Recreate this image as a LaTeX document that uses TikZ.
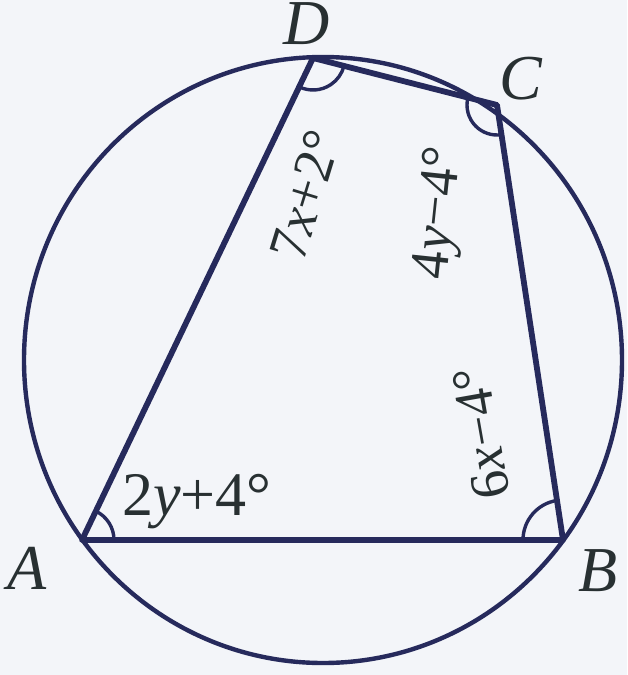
\documentclass[tikz,border=0pt]{standalone}
\usepackage{fontspec}
\setmainfont{Liberation Serif}
\definecolor{ink}{RGB}{38,42,92}
\definecolor{txt}{RGB}{40,48,50}
\definecolor{bg}{RGB}{243,245,249}
\begin{document}
\begin{tikzpicture}[x=1pt,y=-1pt,
  circ/.style={draw=ink,line width=4.4pt},
  side/.style={draw=ink,line width=5.8pt,line join=round,line cap=round},
  angmark/.style={draw=ink,line width=3.4pt},
  vlab/.style={text=txt,inner sep=0pt,font=\fontsize{64}{64}\selectfont\itshape},
  alab/.style={text=txt,inner sep=0pt,font=\fontsize{62}{62}\selectfont},
  rlab/.style={text=txt,inner sep=0pt,font=\fontsize{55}{55}\selectfont}]
\fill[bg] (0,0) rectangle (627,675);
\useasboundingbox (0,0) rectangle (627,675);
\coordinate (O) at (323,360);
\coordinate (A) at (82,540);
\coordinate (B) at (563,540);
\coordinate (C) at (497,105);
\coordinate (D) at (313,58);
\draw[circ] (O) ellipse [x radius=299, y radius=303];
\draw[side] (A) -- (B) -- (C) -- (D) -- cycle;
% angle marks (y axis points down, so angles are measured clockwise)
\draw[angmark] ([shift={(0:32)}]A) arc[start angle=0,end angle=-64,radius=32];
\draw[angmark] ([shift={(180:40)}]B) arc[start angle=180,end angle=261,radius=40];
\draw[angmark] ([shift={(-165:30)}]C) arc[start angle=-165,end angle=-279,radius=30];
\draw[angmark] ([shift={(-244:32)}]D) arc[start angle=-244,end angle=-345,radius=32];
% vertex labels
\node[vlab] (lA) at (27,568) {A};
\node[vlab] (lB) at (598,571) {B};
\node[vlab] (lC) at (521,79) {C};
\node[vlab] (lD) at (307,24) {D};
% angle labels
\node[alab] (a1) at (197,502) {2\textit{y}+4°};
\node[rlab,rotate=73] (a2) at (305,195) {7\textit{x}+2°};
\node[rlab,rotate=84] (a3) at (441,213) {4\textit{y}−4°};
\node[rlab,rotate=100] (a4) at (481,433) {6\textit{x}−4°};
\end{tikzpicture}
\end{document}
